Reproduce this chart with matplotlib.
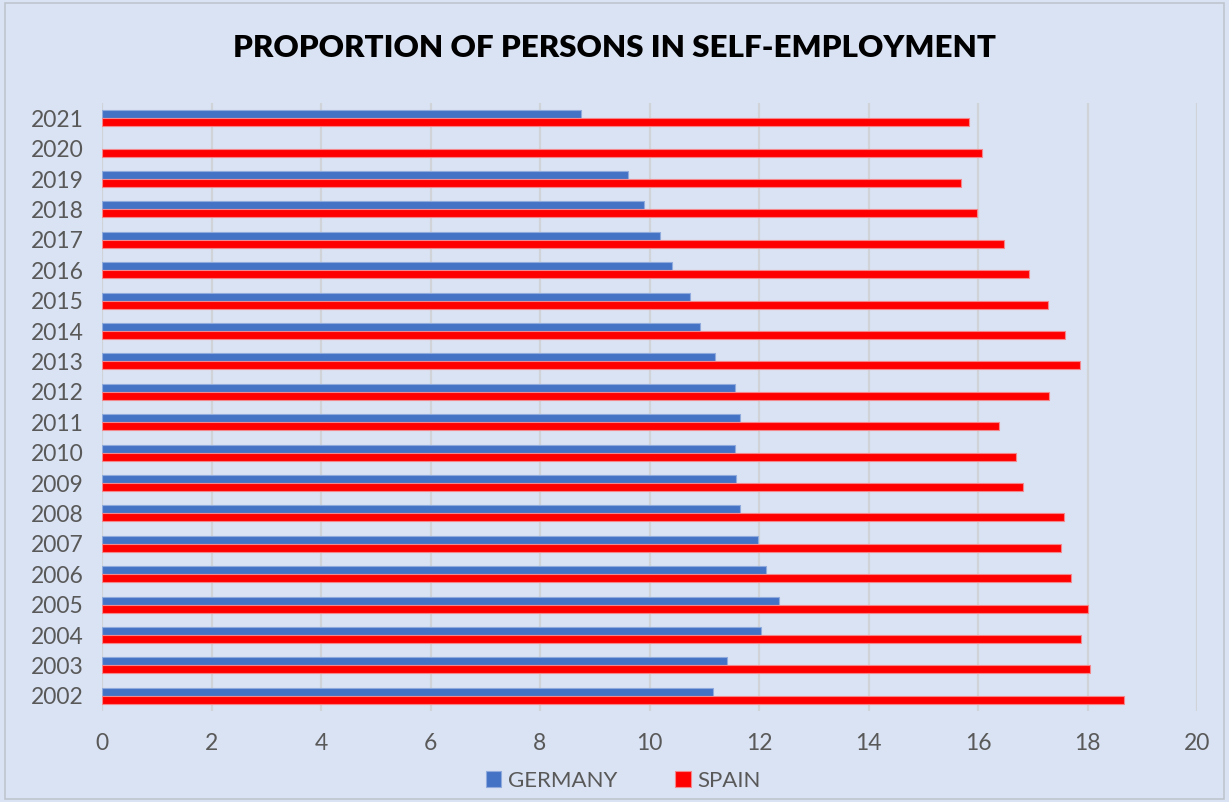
import matplotlib
matplotlib.use("Agg")
import matplotlib.pyplot as plt
import numpy as np
from matplotlib.patches import Rectangle

years = ["2002", "2003", "2004", "2005", "2006", "2007", "2008", "2009", "2010", "2011",
         "2012", "2013", "2014", "2015", "2016", "2017", "2018", "2019", "2020", "2021"]
germany = [11.16, 11.41, 12.04, 12.36, 12.13, 11.98, 11.65, 11.58, 11.56, 11.65,
           11.56, 11.20, 10.92, 10.74, 10.41, 10.19, 9.90, 9.61, None, 8.75]
spain = [18.67, 18.05, 17.88, 18.01, 17.70, 17.51, 17.57, 16.83, 16.69, 16.38,
         17.30, 17.86, 17.59, 17.28, 16.93, 16.47, 15.98, 15.69, 16.07, 15.84]
xticks = [0, 2, 4, 6, 8, 10, 12, 14, 16, 18, 20]

plt.rcParams['font.family'] = ['Lato', 'DejaVu Sans']

bg = '#DAE3F3'
fig = plt.figure(figsize=(12.29, 8.02), dpi=100, facecolor=bg)
ax = fig.add_axes([102/1229, 1-711/802, (1197-102)/1229, (711-103)/802])
ax.set_facecolor(bg)

y = np.arange(len(years))
h = 0.265
ger = np.array([np.nan if v is None else v for v in germany], dtype=float)
ax.barh(y + h/2, ger, height=h, color='#4472C4', edgecolor='#8FAADC', linewidth=0.8, label='GERMANY', zorder=3)
ax.barh(y - h/2, spain, height=h, color='#FF0000', edgecolor='#F4878C', linewidth=0.8, label='SPAIN', zorder=3)

ax.set_xlim(0, 20)
ax.set_ylim(-0.5, len(years) - 0.5)
ax.set_xticks(xticks)
ax.set_xticklabels([str(t) for t in xticks])
ax.set_yticks(y)
ax.set_yticklabels(years)
ax.tick_params(axis='both', length=0, labelsize=16.5, colors='#595959')
ax.tick_params(axis='x', pad=16)
ax.tick_params(axis='y', pad=13)
ax.grid(axis='x', color='#D0D3D8', linewidth=1.6, zorder=0)
for s in ax.spines.values():
    s.set_visible(False)

fig.text(0.5, 1-48/802, 'PROPORTION OF PERSONS IN SELF-EMPLOYMENT', ha='center', va='center',
         fontsize=22.5, fontweight='heavy', color='black')

leg = fig.legend(loc='center', bbox_to_anchor=(0.507, 1-781/802), ncol=2, frameon=False,
                 fontsize=16, labelcolor='#595959', handlelength=0.7, handleheight=0.7,
                 handletextpad=0.3, columnspacing=2.6)

fig.add_artist(Rectangle((0.004, 0.004), 0.992, 0.992, transform=fig.transFigure,
                         fill=False, edgecolor='#BFC5CE', linewidth=1.2))

fig.savefig('out.png', dpi=100, facecolor=bg)
